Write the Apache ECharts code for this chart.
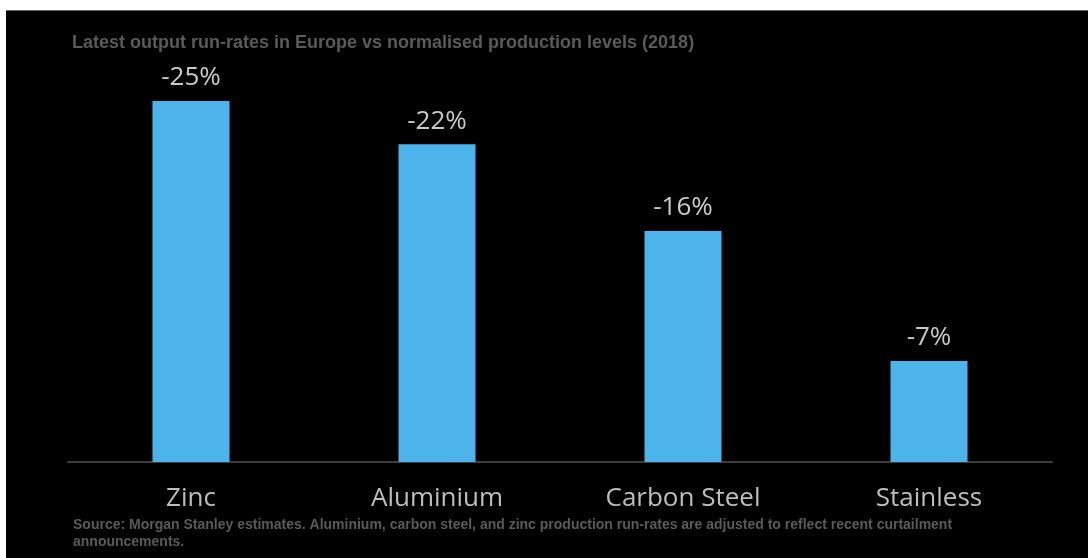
<!DOCTYPE html>
<html>
<head>
<meta charset="utf-8">
<script src="https://cdn.jsdelivr.net/npm/echarts@6/dist/echarts.min.js"></script>
<style>
  html, body { margin: 0; padding: 0; background: #ffffff; }
  #panel {
    position: absolute; left: 6px; top: 10px; width: 1082px; height: 548px;
    background: #000000; border-top: 1px solid #6a6a6a; box-sizing: border-box;
  }
  #chart { position: absolute; left: 0; top: 0; width: 1088px; height: 558px; }
</style>
</head>
<body>
<div id="panel"></div>
<div id="chart"></div>
<script>
// Run-rate change vs normalised 2018 production, per metal (%)
const categories = ['Zinc', 'Aluminium', 'Carbon Steel', 'Stainless'];
const runRateChange = [-25, -22, -16, -7];

const titleText = 'Latest output run-rates in Europe vs normalised production levels (2018)';
const sourceText = 'Source: Morgan Stanley estimates. Aluminium, carbon steel, and zinc production run-rates are adjusted to reflect recent curtailment\nannouncements.';

const chart = echarts.init(document.getElementById('chart'), null, { renderer: 'canvas' });

chart.setOption({
  backgroundColor: 'transparent',
  animation: false,
  title: [
    {
      text: titleText,
      left: 67,
      top: 29,
      textStyle: {
        fontFamily: 'Liberation Sans, Arial, sans-serif',
        fontWeight: 'bold',
        fontSize: 18,
        color: '#5a5a5a'
      }
    },
    {
      text: sourceText,
      left: 68,
      top: 512,
      textStyle: {
        fontFamily: 'Liberation Sans, Arial, sans-serif',
        fontWeight: 'bold',
        fontSize: 14,
        lineHeight: 17,
        color: '#5a5a5a'
      }
    }
  ],
  grid: { left: 68, right: 36, top: 101, bottom: 96, containLabel: false },
  xAxis: {
    type: 'category',
    data: categories,
    axisLine: { show: true, lineStyle: { color: '#3c3c3c', width: 2 } },
    axisTick: { show: false },
    axisLabel: {
      margin: 24,
      fontFamily: 'Open Sans, sans-serif',
      fontSize: 26,
      color: '#bdbdbd'
    }
  },
  yAxis: {
    type: 'value',
    inverse: true,
    min: -25,
    max: 0,
    show: false,
    splitLine: { show: false }
  },
  series: [{
    type: 'bar',
    data: runRateChange,
    barWidth: 77,
    itemStyle: { color: '#4cb4ea' },
    label: {
      show: true,
      position: 'top',
      distance: 10,
      formatter: p => p.value + '%',
      fontFamily: 'Open Sans, sans-serif',
      fontSize: 26,
      color: '#c9c9c9'
    }
  }]
});
</script>
</body>
</html>
